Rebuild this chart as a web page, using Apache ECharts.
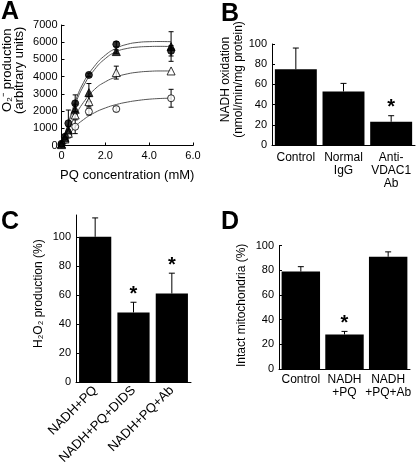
<!DOCTYPE html>
<html>
<head>
<meta charset="utf-8">
<script src="https://cdn.jsdelivr.net/npm/echarts@6/dist/echarts.min.js"></script>
<style>
html,body{margin:0;padding:0;background:#fff;}
#chart{width:416px;height:467px;}
</style>
</head>
<body>
<div id="chart"></div>
<script>
// ---------- Panel A data ----------
const pqConc = [0, 0.156, 0.3125, 0.625, 1.25, 2.5, 5];
const filledCircle = [100, 510, 1290, 2450, 4100, 5880, 5500];
const filledCircleErr = [0, 100, 770, 490, 100, 150, 300];
const filledTri = [80, 450, 900, 2100, 3070, 5456, 5750];
const filledTriErr = [0, 0, 200, 300, 530, 100, 860];
const openTri = [50, 380, 710, 1770, 2550, 4235, 4330];
const openTriErr = [0, 100, 200, 200, 300, 375, 0];
const openCircle = [30, 320, 610, 1090, 1970, 2120, 2744];
const openCircleErr = [0, 0, 150, 400, 200, 150, 520];
// fitted curves
const fitX = [0, 0.3, 0.6, 1.0, 1.5, 2.0, 2.5, 3.0, 3.5, 4.0, 4.5, 5.0];
const fitFilledCircle = [0, 1250, 2450, 3650, 4600, 5250, 5650, 5880, 5990, 6030, 6040, 6030];
const fitFilledTri = [0, 1200, 2300, 3450, 4400, 5050, 5450, 5640, 5720, 5750, 5760, 5750];
const fitOpenTri = [0, 850, 1650, 2500, 3250, 3700, 3980, 4160, 4260, 4310, 4330, 4330];
const fitOpenCircle = [0, 500, 1050, 1500, 1900, 2180, 2380, 2520, 2620, 2690, 2730, 2750];

// ---------- Panel B data ----------
const bCats = ['Control', 'Normal\nIgG', 'Anti-\nVDAC1\nAb'];
const bVals = [75, 53, 23];
const bErr = [21, 8, 6];
const bStar = [0, 0, 1];

// ---------- Panel C data ----------
const cCats = ['NADH+PQ', 'NADH+PQ+DIDS', 'NADH+PQ+Ab'];
const cVals = [100, 48, 61];
const cErr = [13, 7, 14];
const cStar = [0, 1, 1];
const cYTicks = [0, 20, 40, 60, 80, 100];

// ---------- Panel D data ----------
const dCats = ['Control', 'NADH\n+PQ', 'NADH\n+PQ+Ab'];
const dVals = [79, 28, 91];
const dErr = [4, 2.5, 4];
const dStar = [0, 1, 0];

const FONT = 'Liberation Sans, Arial, Helvetica, sans-serif';
const chart = echarts.init(document.getElementById('chart'), null, {renderer: 'canvas'});

function errRender(twoSided, capHalf, starGap) {
  return function (params, api) {
    const x = api.value(0), lo = api.value(1), hi = api.value(2), star = api.value(3);
    const a = api.coord([x, lo]), b = api.coord([x, hi]);
    const st = {stroke: '#000', lineWidth: 1};
    const children = [
      {type: 'line', shape: {x1: a[0], y1: a[1], x2: b[0], y2: b[1]}, style: st},
      {type: 'line', shape: {x1: b[0] - capHalf, y1: b[1], x2: b[0] + capHalf, y2: b[1]}, style: st}
    ];
    if (twoSided) children.push({type: 'line', shape: {x1: a[0] - capHalf, y1: a[1], x2: a[0] + capHalf, y2: a[1]}, style: st});
    if (star) children.push({type: 'text', style: {text: '*', x: b[0], y: b[1] - starGap, align: 'center', verticalAlign: 'middle', fontSize: 20, fontWeight: 'bold', fontFamily: FONT, fill: '#000'}});
    return {type: 'group', children: children};
  };
}

function scatterErr(vals, errs) {
  const out = [];
  vals.forEach((v, i) => { if (errs[i] > 0) out.push([pqConc[i], v - errs[i], v + errs[i], 0]); });
  return out;
}
function barErr(vals, errs, stars) {
  return vals.map((v, i) => [i, v, v + errs[i], stars[i]]);
}
function pairs(xs, ys) { return xs.map((x, i) => [x, ys[i]]); }

const axisLineStyle = {lineStyle: {color: '#000', width: 1}};
const tickLabel = {color: '#000', fontSize: 11, fontFamily: FONT};
const nameStyle = {color: '#000', fontSize: 12, fontFamily: FONT, lineHeight: 13};

const fitLine = (data) => ({
  type: 'line', xAxisIndex: 0, yAxisIndex: 0, data: data, smooth: true, showSymbol: false,
  lineStyle: {color: '#555', width: 1}, silent: true, z: 1
});
const markers = (data, symbol, size, filled) => ({
  type: 'scatter', xAxisIndex: 0, yAxisIndex: 0, data: data, symbol: symbol, symbolSize: size,
  itemStyle: {color: filled ? '#000' : '#fff', borderColor: '#000', borderWidth: 1}, z: 5
});
const errA = (data) => ({
  type: 'custom', xAxisIndex: 0, yAxisIndex: 0, data: data, renderItem: errRender(true, 2.5, 0),
  encode: {x: 0, y: [1, 2]}, z: 3
});

const option = {
  animation: false,
  backgroundColor: '#fff',
  textStyle: {fontFamily: FONT},
  grid: [
    {left: 58, top: 25, width: 135, height: 120.5},
    {left: 272, top: 44, width: 143, height: 101},
    {left: 76, top: 215, width: 115, height: 170.3},
    {left: 279, top: 245.7, width: 131, height: 123.3}
  ],
  xAxis: [
    {gridIndex: 0, type: 'value', min: 0, max: 6, interval: 2,
     axisLine: axisLineStyle, splitLine: {show: false},
     axisTick: {inside: true, length: 3, lineStyle: {color: '#000'}},
     axisLabel: Object.assign({margin: 5, formatter: v => v === 0 ? '0' : v.toFixed(1)}, tickLabel),
     name: 'PQ concentration (mM)', nameLocation: 'middle', nameGap: 23,
     nameTextStyle: Object.assign({}, nameStyle, {fontSize: 13})},
    {gridIndex: 1, type: 'category', data: bCats,
     axisLine: axisLineStyle, axisTick: {length: 2, lineStyle: {color: '#000'}},
     axisLabel: Object.assign({margin: 6, lineHeight: 13, interval: 0}, tickLabel, {fontSize: 12})},
    {gridIndex: 2, type: 'category', data: cCats,
     axisLine: axisLineStyle, axisTick: {length: 2, lineStyle: {color: '#000'}},
     axisLabel: Object.assign({margin: 6, rotate: 45, interval: 0}, tickLabel, {fontSize: 13})},
    {gridIndex: 3, type: 'category', data: dCats,
     axisLine: axisLineStyle, axisTick: {length: 2, lineStyle: {color: '#000'}},
     axisLabel: Object.assign({margin: 4, lineHeight: 13, interval: 0}, tickLabel, {fontSize: 12})}
  ],
  yAxis: [
    {gridIndex: 0, type: 'value', min: 0, max: 7000, interval: 1000,
     axisLine: Object.assign({show: true}, axisLineStyle), splitLine: {show: false},
     axisTick: {show: true, inside: true, length: 3, lineStyle: {color: '#000'}},
     axisLabel: Object.assign({margin: 4, formatter: v => String(v)}, tickLabel),
     name: 'O\u2082\u207B production\n(arbitrary units)', nameLocation: 'middle', nameGap: 36, nameRotate: 90,
     nameTextStyle: Object.assign({}, nameStyle, {fontSize: 13, lineHeight: 12, padding: [0, 0, 0, 30]})},
    {gridIndex: 1, type: 'value', min: 0, max: 100, interval: 20,
     axisLine: Object.assign({show: true}, axisLineStyle), splitLine: {show: false},
     axisTick: {show: true, inside: true, length: 3, lineStyle: {color: '#000'}},
     axisLabel: Object.assign({margin: 5}, tickLabel),
     name: 'NADH oxidation\n(nmol/min/mg protein)', nameLocation: 'middle', nameGap: 27, nameRotate: 90,
     nameTextStyle: Object.assign({}, nameStyle, {padding: [0, 0, 0, 30]})},
    {gridIndex: 2, type: 'value', min: 0, max: 115,
     axisLine: Object.assign({show: true}, axisLineStyle), splitLine: {show: false},
     axisTick: {show: true, inside: true, length: 3, customValues: cYTicks, lineStyle: {color: '#000'}},
     axisLabel: Object.assign({margin: 5, customValues: cYTicks}, tickLabel),
     name: 'H\u2082O\u2082 production (%)', nameLocation: 'middle', nameGap: 31, nameRotate: 90,
     nameTextStyle: Object.assign({}, nameStyle, {padding: [0, 0, 0, 10]})},
    {gridIndex: 3, type: 'value', min: 0, max: 100, interval: 20,
     axisLine: Object.assign({show: true}, axisLineStyle), splitLine: {show: false},
     axisTick: {show: true, inside: true, length: 3, lineStyle: {color: '#000'}},
     axisLabel: Object.assign({margin: 5}, tickLabel),
     name: 'Intact mitochondria (%)', nameLocation: 'middle', nameGap: 31, nameRotate: 90,
     nameTextStyle: Object.assign({}, nameStyle, {padding: [0, 0, 0, 4]})}
  ],
  series: [
    fitLine(pairs(fitX, fitFilledCircle)),
    fitLine(pairs(fitX, fitFilledTri)),
    fitLine(pairs(fitX, fitOpenTri)),
    fitLine(pairs(fitX, fitOpenCircle)),
    errA(scatterErr(filledCircle, filledCircleErr)),
    errA(scatterErr(filledTri, filledTriErr)),
    errA(scatterErr(openTri, openTriErr)),
    errA(scatterErr(openCircle, openCircleErr)),
    markers(pairs(pqConc, openCircle), 'circle', 7, false),
    markers(pairs(pqConc, openTri), 'triangle', 8, false),
    markers(pairs(pqConc, filledTri), 'triangle', 8, true),
    markers(pairs(pqConc, filledCircle), 'circle', 7, true),

    {type: 'bar', xAxisIndex: 1, yAxisIndex: 1, data: bVals, barWidth: '88%', itemStyle: {color: '#000'}},
    {type: 'custom', xAxisIndex: 1, yAxisIndex: 1, data: barErr(bVals, bErr, bStar), renderItem: errRender(false, 3, 8), encode: {x: 0, y: [1, 2]}, z: 4},

    {type: 'bar', xAxisIndex: 2, yAxisIndex: 2, data: cVals, barWidth: '84%', itemStyle: {color: '#000'}},
    {type: 'custom', xAxisIndex: 2, yAxisIndex: 2, data: barErr(cVals, cErr, cStar), renderItem: errRender(false, 3, 8), encode: {x: 0, y: [1, 2]}, z: 4},

    {type: 'bar', xAxisIndex: 3, yAxisIndex: 3, data: dVals, barWidth: '88%', itemStyle: {color: '#000'}},
    {type: 'custom', xAxisIndex: 3, yAxisIndex: 3, data: barErr(dVals, dErr, dStar), renderItem: errRender(false, 3, 8), encode: {x: 0, y: [1, 2]}, z: 4}
  ],
  graphic: [
    {type: 'text', left: 1, top: 0, style: {text: 'A', fontSize: 25, fontWeight: 'bold', fontFamily: FONT, fill: '#000'}},
    {type: 'text', left: 221, top: 2, style: {text: 'B', fontSize: 25, fontWeight: 'bold', fontFamily: FONT, fill: '#000'}},
    {type: 'text', left: 1, top: 210, style: {text: 'C', fontSize: 25, fontWeight: 'bold', fontFamily: FONT, fill: '#000'}},
    {type: 'text', left: 221, top: 210, style: {text: 'D', fontSize: 25, fontWeight: 'bold', fontFamily: FONT, fill: '#000'}}
  ]
};
chart.setOption(option);
</script>
</body>
</html>
